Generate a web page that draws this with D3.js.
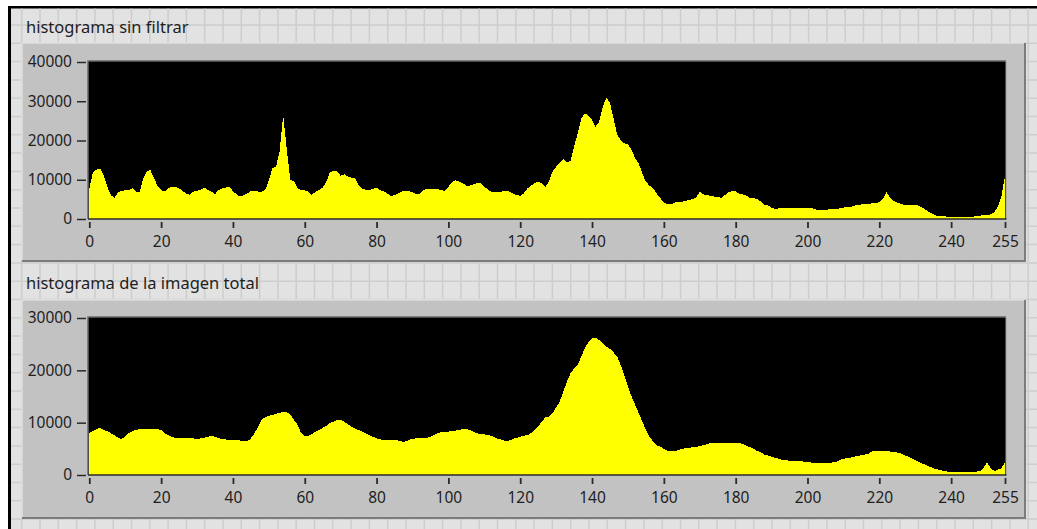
<!DOCTYPE html>
<html>
<head>
<meta charset="utf-8">
<script src="https://cdn.jsdelivr.net/npm/d3@7"></script>
<style>
  html, body { margin: 0; padding: 0; background: #fff; }
  svg { display: block; }
  text { font-family: "Noto Sans", "Open Sans", sans-serif; fill: #1e1e1e; }
</style>
</head>
<body>
<div id="chart"></div>
<script>
const width = 1037;
const height = 529;

// niveles de gris 0..255
const bins = d3.range(0, 256);

const xTicks = [0, 20, 40, 60, 80, 100, 120, 140, 160, 180, 200, 220, 240, 255];
const yTicksUnfiltered = [0, 10000, 20000, 30000, 40000];
const yTicksTotal = [0, 10000, 20000, 30000];

const titleUnfiltered = "histograma sin filtrar";
const titleTotal = "histograma de la imagen total";

// histograma sin filtrar (cuentas por nivel)
const unfiltered = [
  7600, 12000, 12500, 12900, 11200, 8200, 6100, 5400, 6800, 7100,
  7400, 7400, 7800, 7000, 6800, 10400, 12100, 12500, 10400, 8500,
  7400, 7000, 7800, 8200, 8200, 7800, 7100, 6500, 6100, 7000,
  7200, 7400, 8000, 7400, 7000, 6300, 7400, 7800, 8000, 8200,
  7100, 6300, 5700, 6100, 6500, 7100, 7100, 7000, 7000, 7400,
  9900, 12900, 13300, 17200, 26500, 17600, 9900, 9700, 7800, 7400,
  7300, 7000, 6100, 7000, 7400, 8000, 9500, 11900, 12200, 12100,
  11000, 11400, 10800, 10500, 10500, 8500, 7800, 7400, 7400, 7600,
  8000, 7400, 7000, 6500, 5700, 6100, 6500, 7000, 7100, 7100,
  6800, 6300, 6500, 7400, 7600, 7600, 7600, 7600, 7400, 7100,
  8200, 9300, 9900, 9500, 9100, 8500, 8500, 8800, 9200, 9100,
  8200, 7600, 6800, 6800, 6800, 7000, 7100, 7000, 6500, 6100,
  5900, 6500, 7800, 8500, 9100, 9500, 9100, 8200, 9500, 12100,
  13300, 14200, 15300, 14400, 14800, 18400, 21800, 25600, 26900, 26300,
  25200, 23500, 24800, 28600, 30900, 29500, 25600, 21400, 20100, 19300,
  19000, 17600, 15500, 14200, 11600, 9500, 8500, 7800, 6500, 5300,
  4200, 3700, 3700, 4200, 4400, 4400, 4600, 4800, 5100, 5400,
  7000, 6300, 6100, 5900, 5700, 5700, 5400, 6100, 6800, 7100,
  7000, 6500, 6300, 5900, 5400, 5300, 5100, 4400, 3700, 3400,
  2900, 2500, 2700, 2900, 2900, 2700, 2700, 2700, 2700, 2700,
  2700, 2900, 2500, 2300, 2200, 2300, 2500, 2500, 2600, 2700,
  2900, 3100, 3100, 3400, 3600, 3700, 3800, 3800, 4000, 4000,
  4400, 5100, 6800, 5400, 4600, 4200, 3900, 3600, 3600, 3600,
  3600, 3400, 2900, 2300, 1700, 1200, 850, 760, 700, 600,
  600, 600, 600, 600, 600, 600, 600, 700, 850, 1000,
  1000, 1200, 1700, 3100, 5700, 11000
];

// histograma de la imagen total
const total = [
  8000, 8400, 8800, 9000, 8600, 8400, 8000, 7600, 7100, 6900,
  7300, 8000, 8400, 8600, 8800, 8800, 8800, 8700, 8800, 8800,
  8600, 8000, 7600, 7300, 7100, 7100, 7100, 7100, 7100, 7000,
  6900, 7000, 7100, 7300, 7500, 7300, 7000, 6900, 6800, 6700,
  6700, 6700, 6600, 6500, 6400, 7000, 8000, 9200, 10500, 11100,
  11300, 11500, 11700, 11900, 12000, 12000, 11500, 10500, 9600, 8000,
  7500, 7500, 7800, 8300, 8600, 9000, 9400, 9900, 10200, 10500,
  10500, 10200, 9700, 9200, 8900, 8600, 8300, 8000, 7600, 7300,
  7000, 6800, 6700, 6600, 6600, 6600, 6600, 6400, 6400, 6700,
  6900, 7000, 7000, 7100, 7100, 7300, 7600, 8000, 8200, 8300,
  8300, 8400, 8500, 8600, 8800, 8800, 8600, 8200, 8000, 7800,
  7800, 7600, 7500, 7100, 6900, 6700, 6400, 6600, 6900, 7100,
  7300, 7500, 7600, 8000, 8600, 9200, 10200, 11000, 11100, 11800,
  12900, 14000, 15900, 17800, 19400, 20400, 21000, 22600, 24200, 25400,
  26100, 26200, 25800, 25200, 24500, 24100, 23400, 22600, 21000, 19100,
  16900, 15000, 13400, 11800, 10200, 8600, 7300, 6400, 5700, 5400,
  5000, 4600, 4600, 4600, 4700, 5000, 5100, 5200, 5300, 5400,
  5500, 5700, 5900, 6100, 6200, 6200, 6200, 6200, 6200, 6100,
  6100, 6100, 5900, 5600, 5300, 5000, 4600, 4300, 3900, 3700,
  3500, 3300, 3100, 2900, 2900, 2700, 2700, 2700, 2700, 2500,
  2500, 2400, 2200, 2200, 2200, 2200, 2300, 2400, 2500, 2900,
  3100, 3200, 3300, 3500, 3600, 3800, 3900, 4100, 4500, 4500,
  4500, 4500, 4500, 4500, 4300, 4300, 4100, 3800, 3500, 3200,
  2900, 2500, 2200, 1900, 1600, 1300, 1100, 960, 760, 640,
  640, 640, 640, 640, 640, 640, 640, 640, 760, 1300,
  2400, 1300, 760, 1000, 1300, 2400
];

const svg = d3.select("#chart").append("svg")
  .attr("width", width)
  .attr("height", height);

// marco exterior y fondo cuadriculado
svg.append("rect").attr("x", 0).attr("y", 0).attr("width", width).attr("height", height).attr("fill", "#fff");
svg.append("rect").attr("x", 8).attr("y", 6).attr("width", width - 8).attr("height", height - 6).attr("fill", "#000");
svg.append("rect").attr("x", 11).attr("y", 8.5).attr("width", width - 11).attr("height", height - 8.5).attr("fill", "#e2e2e2");

const step = 18.3;
const grid = svg.append("g").attr("stroke", "#cdcdcd").attr("stroke-width", 1.5);
grid.selectAll("line.v")
  .data(d3.range(21.7, width, step))
  .enter().append("line")
    .attr("x1", d => d).attr("x2", d => d)
    .attr("y1", 8.5).attr("y2", height);
grid.selectAll("line.h")
  .data(d3.range(25 - step, height, step).filter(d => d > 8.5))
  .enter().append("line")
    .attr("x1", 11).attr("x2", width)
    .attr("y1", d => d).attr("y2", d => d);

const panels = [
  { title: titleUnfiltered, values: unfiltered, yTicks: yTicksUnfiltered,
    titleY: 33, boxTop: 43, boxBottom: 261, plotTop: 61, plotBottom: 219, yTop: 62 },
  { title: titleTotal, values: total, yTicks: yTicksTotal,
    titleY: 289, boxTop: 300, boxBottom: 518, plotTop: 317, plotBottom: 475, yTop: 318 }
];

const boxLeft = 22, boxRight = 1025;
const plotLeft = 88, plotRight = 1006;

const x = d3.scaleLinear().domain([0, 255]).range([89.3, 1005]);

panels.forEach((p, k) => {
  const g = svg.append("g");

  g.append("text")
      .attr("x", 26)
      .attr("y", p.titleY)
      .attr("font-size", 16.5)
      .text(p.title);

  // caja gris
  g.append("rect")
      .attr("x", boxLeft).attr("y", p.boxTop)
      .attr("width", boxRight - boxLeft).attr("height", p.boxBottom - p.boxTop)
      .attr("fill", "#c2c2c2");
  g.append("path")
      .attr("d", `M${boxLeft},${p.boxBottom} V${p.boxTop} H${boxRight}`)
      .attr("fill", "none").attr("stroke", "#ececec").attr("stroke-width", 1);
  g.append("path")
      .attr("d", `M${boxLeft},${p.boxBottom} H${boxRight} V${p.boxTop}`)
      .attr("fill", "none").attr("stroke", "#7c7c7c").attr("stroke-width", 2);

  const y = d3.scaleLinear()
      .domain([0, d3.max(p.yTicks)])
      .range([p.plotBottom, p.yTop]);

  // área de trazado
  g.append("rect")
      .attr("x", plotLeft).attr("y", p.plotTop)
      .attr("width", plotRight - plotLeft).attr("height", p.plotBottom - p.plotTop)
      .attr("fill", "#000");

  const clipId = "clip" + k;
  g.append("clipPath").attr("id", clipId)
    .append("rect")
      .attr("x", plotLeft).attr("y", p.plotTop)
      .attr("width", plotRight - plotLeft).attr("height", p.plotBottom - p.plotTop);

  const area = d3.area()
      .x((d, i) => x(bins[i]))
      .y0(y(0))
      .y1(d => y(d));

  g.append("path")
      .datum(p.values)
      .attr("clip-path", `url(#${clipId})`)
      .attr("fill", "#ffff00")
      .attr("shape-rendering", "crispEdges")
      .attr("d", area);

  // bordes del área
  g.append("path")
      .attr("d", `M${plotLeft},${p.plotBottom} V${p.plotTop} H${plotRight}`)
      .attr("fill", "none").attr("stroke", "#6a6a6a").attr("stroke-width", 1.5);
  g.append("line")
      .attr("x1", plotRight).attr("x2", plotRight)
      .attr("y1", p.plotTop).attr("y2", p.plotBottom)
      .attr("stroke", "#9a9a9a").attr("stroke-width", 1);
  g.append("line")
      .attr("x1", plotLeft).attr("x2", plotRight + 0.5)
      .attr("y1", p.plotBottom).attr("y2", p.plotBottom)
      .attr("stroke", "#2a2a2a").attr("stroke-width", 1.6);

  // ejes
  const yAxis = g.append("g")
      .attr("transform", `translate(86,0)`)
      .call(d3.axisLeft(y).tickValues(p.yTicks).tickSize(9).tickPadding(5).tickFormat(d3.format("d")));
  yAxis.select(".domain").remove();
  yAxis.selectAll("line").attr("stroke", "#2a2a2a").attr("stroke-width", 1.5);
  yAxis.selectAll("text").attr("font-size", 15.5).attr("fill", "#1e1e1e")
      .attr("font-family", "'Noto Sans', sans-serif");

  const xAxis = g.append("g")
      .attr("transform", `translate(0,${p.plotBottom + 3})`)
      .call(d3.axisBottom(x).tickValues(xTicks).tickSize(6).tickPadding(8).tickFormat(d3.format("d")));
  xAxis.select(".domain").remove();
  xAxis.selectAll("line").attr("stroke", "#2a2a2a").attr("stroke-width", 1.8);
  xAxis.selectAll("text").attr("font-size", 15.5).attr("fill", "#1e1e1e")
      .attr("font-family", "'Noto Sans', sans-serif");
});
</script>
</body>
</html>
